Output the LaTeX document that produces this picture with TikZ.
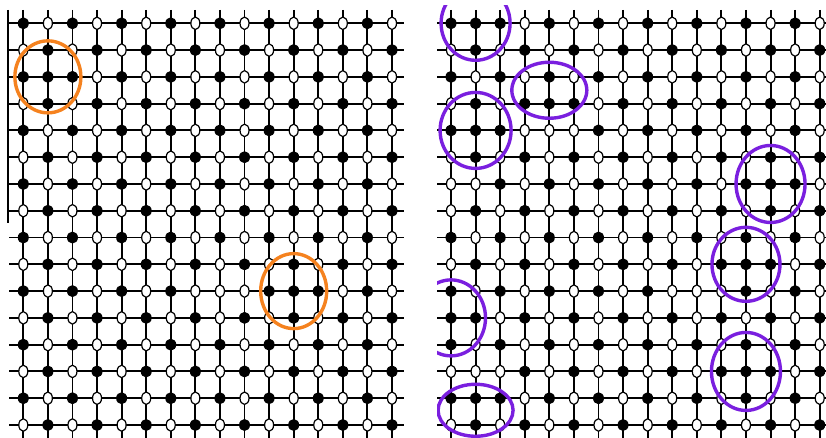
\documentclass[tikz,border=0pt]{standalone}
\usetikzlibrary{shapes.geometric, calc}
\definecolor{ringOrange}{HTML}{F5821F}
\definecolor{ringViolet}{HTML}{7A1FDF}

% sites that break the checkerboard (panel-column-row)
\foreach \s in {L-1-2, L-8-10, L-11-10,
    R-1-0, R-4-3, R-1-4, R-4-4, R-0-6, R-13-6, R-12-9, R-10-10,
    R-0-11, R-1-13, R-12-13, R-1-14}
  {\expandafter\gdef\csname flip@\s\endcsname{}}

\begin{document}
\begin{tikzpicture}[x=1pt, y=-1pt,
    bond/.style={line width=1.9pt, black},
    upsite/.style={ellipse, fill=black, inner sep=0pt, minimum width=11pt, minimum height=12pt},
    downsite/.style={ellipse, draw=black, fill=white, line width=1.2pt, inner sep=0pt,
                     minimum width=9pt, minimum height=12.5pt},
    orangering/.style={ellipse, draw=ringOrange, line width=3.4pt, inner sep=0pt},
    violetring/.style={ellipse, draw=ringViolet, line width=3.4pt, inner sep=0pt}]
  \useasboundingbox (0,0) rectangle (826,438);
  \def\dx{24.58}
  \def\dy{26.78}

  % lattice lines of both panels
  \foreach \pan/\ox/\hstart/\hstop in {L/23.3/9/404, R/451/437/826} {
    \foreach \k in {0,...,15} {
      \coordinate (\pan-top-\k) at (\ox+\k*\dx, 10);
      \coordinate (\pan-bot-\k) at (\ox+\k*\dx, 438);
      \coordinate (\pan-beg-\k) at (\hstart, 23.3+\k*\dy);
      \coordinate (\pan-end-\k) at (\hstop, 23.3+\k*\dy);
      \draw[bond] (\pan-top-\k) -- (\pan-bot-\k);
      \draw[bond] (\pan-beg-\k) -- (\pan-end-\k);
    }
  }
  \coordinate (edgeTop) at (8,10);
  \coordinate (edgeBot) at (8,223);
  \draw[bond] (edgeTop) -- (edgeBot);

  % sites
  \foreach \pan/\ox in {L/23.3, R/451} {
    \foreach \i in {0,...,15} {
      \foreach \j in {0,...,15} {
        \pgfmathtruncatemacro\parity{mod(\i+\j,2)}
        \ifcsname flip@\pan-\i-\j\endcsname
          \pgfmathtruncatemacro\parity{1-\parity}
        \fi
        \ifnum\parity=0 \def\kind{upsite}\else\def\kind{downsite}\fi
        \node[\kind] (\pan-\i-\j) at (\ox+\i*\dx, 23.3+\j*\dy) {};
      }
    }
  }

  % rings
  \node[orangering, minimum width=66pt, minimum height=72pt] (ringA) at (L-1-2) {};
  \node[orangering, minimum width=66pt, minimum height=75pt] (ringB) at (L-11-10) {};
  \begin{scope}
    \clip (437,6) rectangle (826,438);
    \node[violetring, minimum width=69pt, minimum height=74pt] (ringC) at (R-1-0) {};
    \node[violetring, minimum width=71pt, minimum height=76pt] (ringD) at (R-1-4) {};
    \node[violetring, minimum width=75pt, minimum height=56pt] (ringE) at ($(R-4-2)!0.5!(R-4-3)$) {};
    \node[violetring, minimum width=69pt, minimum height=77pt] (ringF) at (R-13-6) {};
    \node[violetring, minimum width=68pt, minimum height=74pt] (ringG) at (R-12-9) {};
    \node[violetring, minimum width=69pt, minimum height=78pt] (ringH) at (R-12-13) {};
    \node[violetring, minimum width=69pt, minimum height=76pt] (ringI) at (R-0-11) {};
    \node[violetring, minimum width=75pt, minimum height=52pt] (ringJ) at ($(R-1-14)!0.45!(R-1-15)$) {};
  \end{scope}
\end{tikzpicture}
\end{document}
